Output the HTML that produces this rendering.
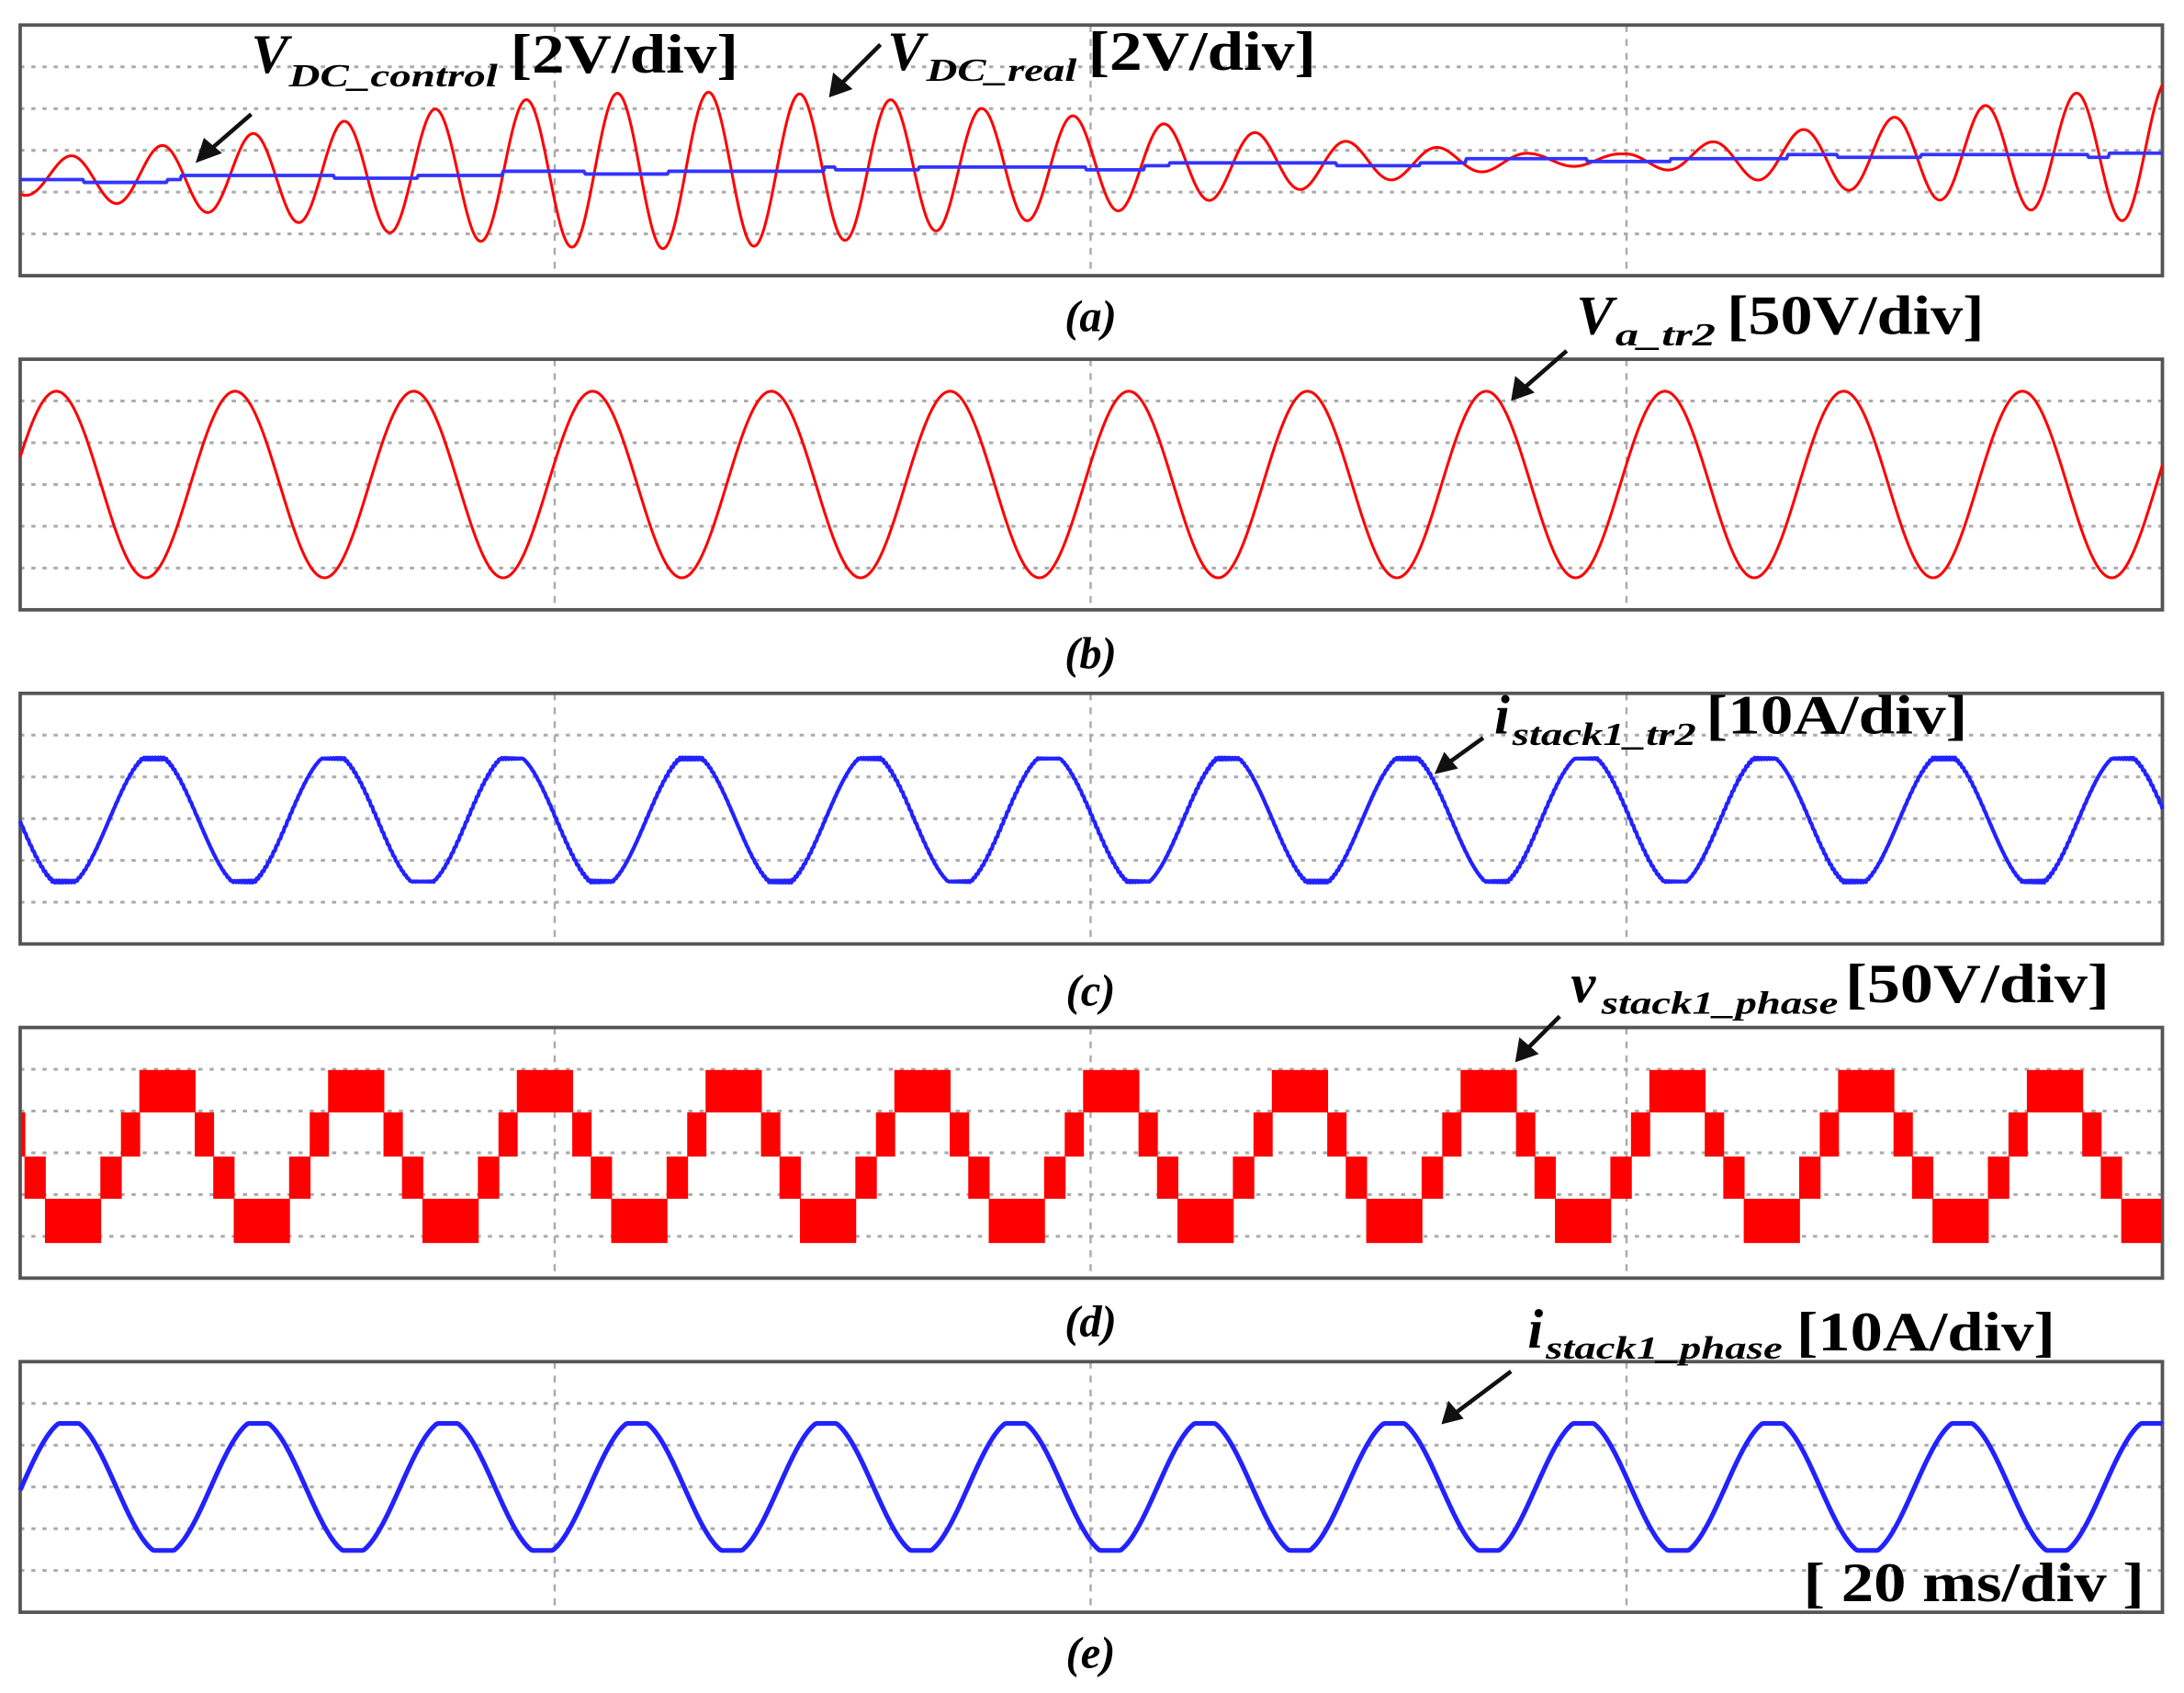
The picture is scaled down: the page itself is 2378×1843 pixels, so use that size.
<!DOCTYPE html>
<html><head><meta charset="utf-8"><style>
html,body{margin:0;padding:0;background:#fff;}
svg{display:block;}
text{font-family:"Liberation Serif",serif;font-weight:bold;fill:#000;}
</style></head><body>
<svg id="s" width="2378" height="1843" viewBox="0 0 1568 1216" xmlns="http://www.w3.org/2000/svg">
<g id="grid"></g>
<g id="waves"></g>
<g id="labels">
<!-- (a) -->
<text x="180" y="52" font-size="40" font-style="italic">V</text>
<text x="207" y="62" font-size="23" font-style="italic" textLength="150" lengthAdjust="spacingAndGlyphs">DC_control</text>
<text x="366" y="52" font-size="40" textLength="164" lengthAdjust="spacingAndGlyphs">[2V/div]</text>
<text x="637" y="50" font-size="40" font-style="italic">V</text>
<text x="665" y="58" font-size="23" font-style="italic" textLength="108" lengthAdjust="spacingAndGlyphs">DC_real</text>
<text x="781" y="50" font-size="40" textLength="164" lengthAdjust="spacingAndGlyphs">[2V/div]</text>
<line x1="180" y1="82" x2="150" y2="108" stroke="#111" stroke-width="3"/><polygon points="140,117 146,99 159,110" fill="#111"/>
<line x1="632" y1="32" x2="604" y2="60" stroke="#111" stroke-width="3"/><polygon points="595,70 598,52 612,64" fill="#111"/>
<text x="783" y="238" font-size="32" font-style="italic" text-anchor="middle">(a)</text>
<!-- (b) -->
<text x="1132" y="240" font-size="40" font-style="italic">V</text>
<text x="1160" y="248" font-size="23" font-style="italic" textLength="72" lengthAdjust="spacingAndGlyphs">a_tr2</text>
<text x="1240" y="240" font-size="40" textLength="185" lengthAdjust="spacingAndGlyphs">[50V/div]</text>
<line x1="1125" y1="252" x2="1094" y2="279" stroke="#111" stroke-width="3"/><polygon points="1085,288 1088,270 1102,282" fill="#111"/>
<text x="783" y="480" font-size="32" font-style="italic" text-anchor="middle">(b)</text>
<!-- (c) -->
<text x="1073" y="527" font-size="40" font-style="italic">i</text>
<text x="1086" y="535" font-size="23" font-style="italic" textLength="132" lengthAdjust="spacingAndGlyphs">stack1_tr2</text>
<text x="1225" y="527" font-size="40" textLength="188" lengthAdjust="spacingAndGlyphs">[10A/div]</text>
<line x1="1065" y1="530" x2="1040" y2="548" stroke="#111" stroke-width="3"/><polygon points="1030,556 1037,540 1047,552" fill="#111"/>
<text x="783" y="722" font-size="32" font-style="italic" text-anchor="middle">(c)</text>
<!-- (d) -->
<text x="1128" y="720" font-size="40" font-style="italic">v</text>
<text x="1150" y="728" font-size="23" font-style="italic" textLength="170" lengthAdjust="spacingAndGlyphs">stack1_phase</text>
<text x="1325" y="720" font-size="40" textLength="190" lengthAdjust="spacingAndGlyphs">[50V/div]</text>
<line x1="1120" y1="730" x2="1096" y2="754" stroke="#111" stroke-width="3"/><polygon points="1088,763 1091,745 1105,757" fill="#111"/>
<text x="783" y="960" font-size="32" font-style="italic" text-anchor="middle">(d)</text>
<!-- (e) -->
<text x="1097" y="968" font-size="40" font-style="italic">i</text>
<text x="1110" y="976" font-size="23" font-style="italic" textLength="170" lengthAdjust="spacingAndGlyphs">stack1_phase</text>
<text x="1290" y="970" font-size="40" textLength="186" lengthAdjust="spacingAndGlyphs">[10A/div]</text>
<line x1="1085" y1="985" x2="1045" y2="1015" stroke="#111" stroke-width="3"/><polygon points="1035,1023 1040,1006 1051,1019" fill="#111"/>
<text x="1295" y="1150" font-size="40" textLength="245" lengthAdjust="spacingAndGlyphs">[ 20 ms/div ]</text>
<text x="783" y="1198" font-size="32" font-style="italic" text-anchor="middle">(e)</text>
</g>
</svg>
<script>
(function(){
var NS="http://www.w3.org/2000/svg";
var grid=document.getElementById('grid'),waves=document.getElementById('waves');
function el(p,tag,a){var e=document.createElementNS(NS,tag);for(var k in a)e.setAttribute(k,a[k]);p.appendChild(e);return e;}
var X0=14,X1=1553;
var tops=[18,258,498,738,978];
tops.forEach(function(t){
  var h=180;
  for(var i=1;i<6;i++){var y=t+h*i/6;el(grid,'line',{x1:X0,x2:X1,y1:y,y2:y,stroke:'#aaa','stroke-width':2,'stroke-dasharray':'3,5'});}
  [398,783,1168].forEach(function(x){el(grid,'line',{x1:x,x2:x,y1:t,y2:t+h,stroke:'#aaa','stroke-width':1.6,'stroke-dasharray':'5,5'});});
  el(grid,'rect',{x:X0,y:t,width:X1-X0,height:h,fill:'none',stroke:'#555','stroke-width':2.5});
});
function path(f,col,w){var d='';for(var x=X0;x<=X1;x+=1){d+=(x==X0?'M':'L')+x+','+f(x).toFixed(2);}el(waves,'path',{d:d,fill:'none',stroke:col,'stroke-width':w,'stroke-linejoin':'round'});}
var TP=2*Math.PI;
// panel a
var env=[[14,12],[113,22],[180,30],[245,38],[310,46],[375,52],[440,56],[508,56],[575,54],[640,49],[705,42],[770,36],[840,29],[905,22],[970,15],[1035,10],[1100,5],[1165,4],[1230,12],[1295,20],[1360,28],[1420,35],[1485,43],[1553,52]];
function A(x){for(var i=0;i<env.length-1;i++){if(x<=env[i+1][0]){var a=env[i],b=env[i+1];return a[1]+(b[1]-a[1])*(x-a[0])/(b[0]-a[0]);}}return 52;}
function blue(x){var base=129-20*(x-14)/1539;return Math.round(base/3)*3+ (Math.floor(x/60)%3==1?2:0);}
path(function(x){var c=128-18*(x-14)/1539;return c-A(x)*Math.cos(TP*(x-50)/65.5);},'#f00',2);
path(blue,'#33f',2.5);
// panel b
path(function(x){return 348-67*Math.cos(TP*(x-40)/128.4);},'#f00',2);
// panel c
path(function(x){var v=Math.cos(TP*(x-110)/128.6);v=Math.max(-0.96,Math.min(0.96,v*1.04));return 589-46*v+(Math.sin(x*3.1)*0.8);},'#22f',2.8);
// panel e
path(function(x){var v=Math.cos(TP*(x-49)/136);v=Math.max(-0.97,Math.min(0.97,v*1.03));return 1068-47*v;},'#22f',3.4);
// panel d staircase
var P=135.6,t0=99.6;
var rects=[[0,39.8,768.5,799],[39.8,53.1,799,830.7],[53.1,67.8,830.7,861],[67.8,107.6,861,892.8],[107.6,122.4,830.7,861],[122.4,135.6,799,830.7]];
for(var k=-1;k<12;k++){rects.forEach(function(r){var a=t0+k*P+r[0],b=t0+k*P+r[1];a=Math.max(a,X0+1);b=Math.min(b,X1-1);if(b>a)el(waves,'rect',{x:a,y:r[2],width:b-a+0.6,height:r[3]-r[2],fill:'#f00'});});}
})();
</script>
</body></html>
